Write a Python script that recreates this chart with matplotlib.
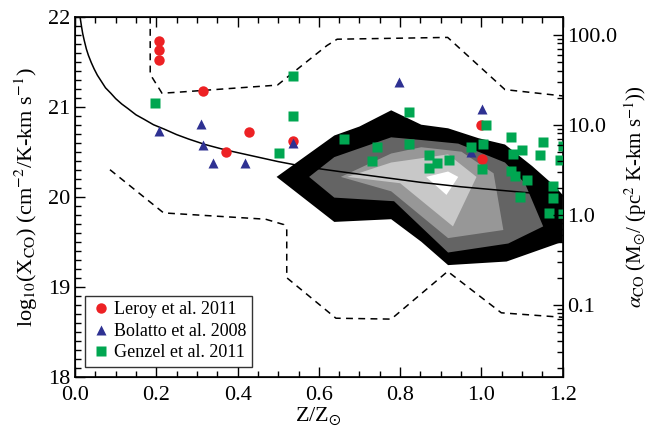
import matplotlib
matplotlib.use('Agg')
from matplotlib import pyplot as plt
from matplotlib.ticker import MultipleLocator, FixedLocator, LogLocator, NullFormatter
import numpy as np

plt.rcParams['font.family'] = ['Liberation Serif', 'DejaVu Serif']
plt.rcParams['mathtext.fontset'] = 'stix'

# observed points: Z/Zsun and log10(X_CO)
leroy_z = [0.207, 0.207, 0.207, 0.316, 0.427, 0.371, 0.537, 1.0, 1.002]
leroy_x = [21.73, 21.63, 21.52, 21.18, 20.72, 20.50, 20.62, 20.80, 20.42]

bolatto_z = [0.207, 0.309, 0.316, 0.339, 0.418, 0.537, 0.796, 1.002, 0.975]
bolatto_x = [20.73, 20.81, 20.58, 20.37, 20.37, 20.60, 21.28, 20.97, 20.50]

genzel_z = [0.198, 0.536, 0.536, 0.502, 0.663, 0.742, 0.732, 0.821, 0.821,
            0.872, 0.872, 0.891, 0.92, 1.012, 0.975, 1.004, 1.002, 1.074,
            1.099, 1.077, 1.074, 1.083, 1.111, 1.095, 1.152, 1.144, 1.194,
            1.2, 1.176, 1.176, 1.166, 1.2]
genzel_x = [21.04, 21.34, 20.90, 20.49, 20.64, 20.55, 20.40, 20.94, 20.59,
            20.46, 20.32, 20.37, 20.41, 20.80, 20.55, 20.59, 20.31, 20.66,
            20.52, 20.47, 20.29, 20.23, 20.19, 20.00, 20.61, 20.46, 20.41,
            20.56, 20.12, 19.99, 19.82, 19.81]

# model curve
curve_z = [0.012, 0.013, 0.016, 0.019, 0.023, 0.028, 0.033, 0.04, 0.047,
           0.055, 0.065, 0.075, 0.088, 0.1, 0.115, 0.13, 0.15, 0.17, 0.193,
           0.22, 0.25, 0.28, 0.32, 0.37, 0.43, 0.5, 0.57, 0.65, 0.75, 0.85,
           0.95, 1.05, 1.2]
curve_x = [22.0, 21.98, 21.89, 21.81, 21.73, 21.64, 21.57, 21.49, 21.42,
           21.35, 21.28, 21.21, 21.15, 21.09, 21.03, 20.98, 20.91, 20.86, 20.80,
           20.75, 20.69, 20.64, 20.58, 20.52, 20.46, 20.39, 20.33, 20.28, 20.22,
           20.16, 20.11, 20.07, 20.01]

# simulation density contours (outer to inner)
lev1_z = [0.496, 0.638, 0.70, 0.778, 0.852, 0.918, 0.993, 1.058, 1.125, 1.18,
          1.2, 1.2, 1.062, 0.918, 0.852, 0.778, 0.638]
lev1_x = [20.22, 20.68, 20.78, 20.96, 20.80, 20.76, 20.65, 20.58, 20.34, 20.12,
          20.02, 19.50, 19.28, 19.24, 19.50, 19.75, 19.72]
lev2_z = [0.576, 0.638, 0.778, 0.852, 0.943, 1.058, 1.107, 1.152, 1.066, 0.918,
          0.785, 0.638]
lev2_x = [20.22, 20.44, 20.66, 20.63, 20.59, 20.38, 20.15, 19.67, 19.48, 19.38,
          19.95, 19.99]
lev3_z = [0.654, 0.778, 0.852, 0.951, 1.03, 1.054, 0.918, 0.778]
lev3_x = [20.22, 20.48, 20.55, 20.50, 20.26, 19.63, 19.54, 20.06]
lev4_z = [0.67, 0.778, 0.918, 0.988, 0.93, 0.80]
lev4_x = [20.22, 20.38, 20.47, 20.22, 19.67, 20.15]
lev5_z = [0.864, 0.918, 0.943, 0.914]
lev5_x = [20.22, 20.28, 20.22, 20.02]

# lowest (dashed) contour
dash_up_z = [0.185, 0.185, 0.214, 0.25, 0.498, 0.62, 0.645, 0.917, 1.058, 1.2]
dash_up_x = [22.0, 21.36, 21.15, 21.16, 21.24, 21.68, 21.75, 21.77, 21.19, 21.12]
dash_lo_z = [0.086, 0.218, 0.469, 0.514, 0.521, 0.521, 0.642, 0.778, 0.917,
             1.049, 1.2]
dash_lo_x = [20.30, 19.82, 19.75, 19.69, 19.63, 19.10, 18.65, 18.64, 19.17,
             18.71, 18.66]

LOG_CONV = 19.8

fig = plt.figure(figsize=(6.49, 4.34), dpi=100)
ax = fig.add_axes([0.1156, 0.132, 0.7514, 0.8295])

ax.fill(lev1_z, lev1_x, color='black', lw=0, zorder=1)
ax.fill(lev2_z, lev2_x, color='#646464', lw=0, zorder=1)
ax.fill(lev3_z, lev3_x, color='#979797', lw=0, zorder=1)
ax.fill(lev4_z, lev4_x, color='#c8c8c8', lw=0, zorder=1)
ax.fill(lev5_z, lev5_x, color='white', lw=0, zorder=1)

ax.plot(dash_up_z, dash_up_x, '--k', lw=1.1, dashes=(4.5, 3.5), zorder=2)
ax.plot(dash_lo_z, dash_lo_x, '--k', lw=1.1, dashes=(4.5, 3.5), zorder=2)
ax.plot(curve_z, curve_x, '-k', lw=1.1, zorder=3)

ax.plot(leroy_z, leroy_x, 'o', color='#ed2124', ms=7.5, mec='none',
        label='Leroy et al. 2011', zorder=4)
ax.plot(bolatto_z, bolatto_x, '^', color='#2e3192', ms=7.5, mec='none',
        label='Bolatto et al. 2008', zorder=5)
ax.plot(genzel_z, genzel_x, 's', color='#00a651', ms=7, mec='none',
        label='Genzel et al. 2011', zorder=6)

ax.set_xlim(0.0, 1.2)
ax.set_ylim(18, 22)
ax.xaxis.set_major_locator(MultipleLocator(0.2))
ax.xaxis.set_minor_locator(MultipleLocator(0.05))
ax.yaxis.set_major_locator(MultipleLocator(1))
ax.yaxis.set_minor_locator(MultipleLocator(0.1))
ax.xaxis.set_major_formatter(matplotlib.ticker.FormatStrFormatter('%.1f'))
ax.tick_params(which='both', direction='in', top=True, right=False,
               labelsize=16, width=1.0)
ax.tick_params(axis='x', pad=7)
ax.tick_params(which='major', length=7)
ax.tick_params(which='minor', length=4)
for s in ax.spines.values():
    s.set_linewidth(1.2)

ax.set_xlabel(r'Z/Z$_{\odot}$', fontsize=16, labelpad=0)
ax.set_ylabel(r'log$_{10}$(X$_{\rm CO}$) (cm$^{-2}$/K-km s$^{-1}$)',
              fontsize=16, labelpad=6)

ax2 = ax.twinx()
ax2.set_yscale('log')
ax2.set_ylim(10**(18 - LOG_CONV), 10**(22 - LOG_CONV))
ax2.yaxis.set_major_locator(FixedLocator([0.1, 1.0, 10.0, 100.0]))
ax2.set_yticklabels(['0.1', '1.0', '10.0', '100.0'])
ax2.yaxis.set_minor_locator(LogLocator(base=10, subs=np.arange(2, 10)))
ax2.yaxis.set_minor_formatter(NullFormatter())
ax2.tick_params(which='both', direction='in', labelsize=16, width=1.0)
ax2.tick_params(which='major', length=7)
ax2.tick_params(which='minor', length=4)
ax2.set_ylabel(r'$\alpha_{\rm CO}$ (M$_{\odot}$/ (pc$^{2}$ K-km s$^{-1}$))',
               fontsize=15, labelpad=3)

leg = ax.legend(loc='lower left', fontsize=13, frameon=True, fancybox=False,
                edgecolor='black', handletextpad=0.1, handlelength=1.2,
                borderpad=0.3, labelspacing=0.25, borderaxespad=0.55,
                numpoints=1)
leg.get_frame().set_linewidth(1.0)

fig.savefig('out.png', dpi=100)
